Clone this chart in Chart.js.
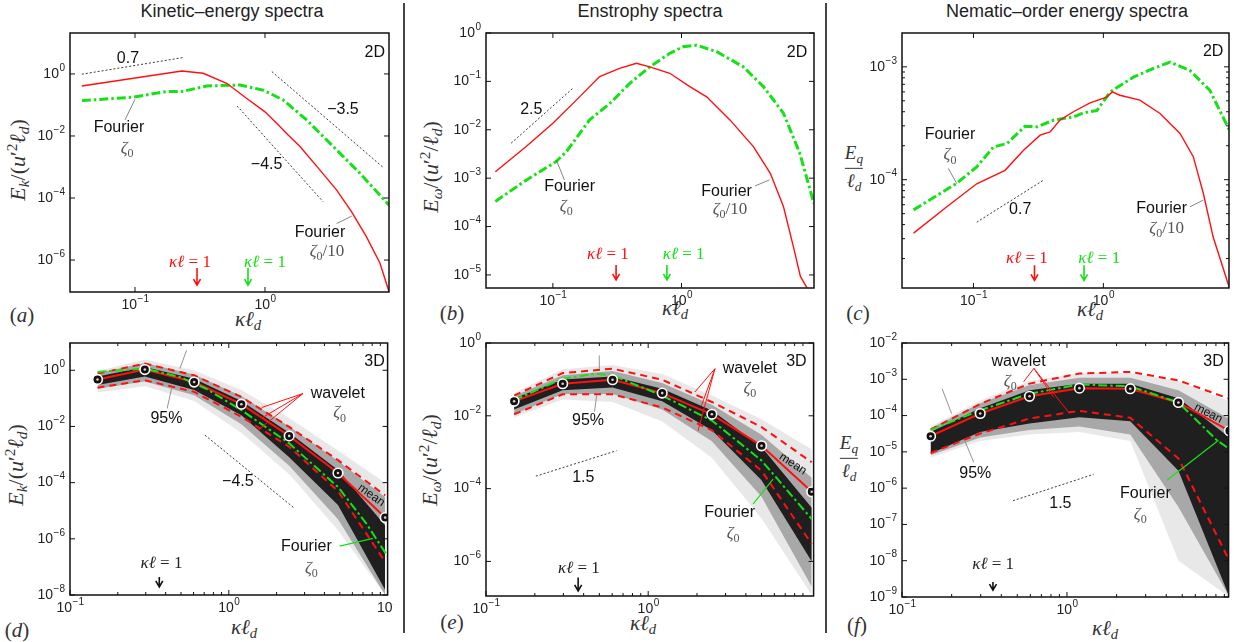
<!DOCTYPE html>
<html>
<head>
<meta charset="utf-8">
<script src="https://cdn.jsdelivr.net/npm/chart.js@4.4.1/dist/chart.umd.min.js"></script>
<style>
  body { margin: 0; background: #fff; width: 1234px; height: 642px; overflow: hidden; position: relative;
         font-family: "Liberation Sans", Arial, sans-serif; }
  canvas { position: absolute; }
  .title { position: absolute; top: 1px; font-size: 18px; color: #222; transform: translateX(-50%); white-space: nowrap; }
  .sep { position: absolute; top: 3px; width: 1.5px; height: 630px; background: #444; }
  .m { position: absolute; font-family: "Liberation Serif", "DejaVu Serif", serif; font-style: italic; color: #333;
       white-space: nowrap; transform: translate(-50%, -50%); line-height: 1; font-size: 21px; }
  .m .r { font-style: normal; }
  .m sub { font-size: 70%; vertical-align: -0.28em; }
  .m sup { font-size: 70%; vertical-align: 0.5em; }
  .ylab { font-size: 22px; }
  .rot { transform: translate(-50%, -50%) rotate(-90deg); }
  .frac { text-align: center; font-size: 19px; }
  .frac .bar { height: 1.3px; background: #333; margin: 3px 0 2px 0; }
</style>
</head>
<body>

<div class="title" style="left:232px">Kinetic–energy spectra</div>
<div class="title" style="left:650px">Enstrophy spectra</div>
<div class="title" style="left:1067px">Nematic–order energy spectra</div>
<div class="sep" style="left:403px"></div>
<div class="sep" style="left:825px"></div>

<!-- axis titles -->
<div class="m rot ylab" style="left:18px;top:160px">E<sub>k</sub><span class="r">/(</span>u<span class="r">′</span><sup class="r">2</sup>ℓ<sub>d</sub><span class="r">)</span></div>
<div class="m rot ylab" style="left:431px;top:167px">E<sub>ω</sub><span class="r">/(</span>u<span class="r">′</span><sup class="r">2</sup><span class="r">/</span>ℓ<sub>d</sub><span class="r">)</span></div>
<div class="m frac" style="left:854px;top:168px"><div>E<sub>q</sub></div><div class="bar"></div><div>ℓ<sub>d</sub></div></div>
<div class="m rot ylab" style="left:16px;top:465px">E<sub>k</sub><span class="r">/(</span>u<span class="r">′</span><sup class="r">2</sup>ℓ<sub>d</sub><span class="r">)</span></div>
<div class="m rot ylab" style="left:430px;top:460px">E<sub>ω</sub><span class="r">/(</span>u<span class="r">′</span><sup class="r">2</sup><span class="r">/</span>ℓ<sub>d</sub><span class="r">)</span></div>
<div class="m frac" style="left:849px;top:458px"><div>E<sub>q</sub></div><div class="bar"></div><div>ℓ<sub>d</sub></div></div>

<div class="m" style="left:248px;top:321px">κℓ<sub>d</sub></div>
<div class="m" style="left:675px;top:310px">κℓ<sub>d</sub></div>
<div class="m" style="left:1090px;top:311px">κℓ<sub>d</sub></div>
<div class="m" style="left:244px;top:629px">κℓ<sub>d</sub></div>
<div class="m" style="left:643px;top:625px">κℓ<sub>d</sub></div>
<div class="m" style="left:1105px;top:630px">κℓ<sub>d</sub></div>

<div class="m" style="left:22px;top:315px"><span class="r">(</span>a<span class="r">)</span></div>
<div class="m" style="left:452px;top:313px"><span class="r">(</span>b<span class="r">)</span></div>
<div class="m" style="left:858px;top:313px"><span class="r">(</span>c<span class="r">)</span></div>
<div class="m" style="left:17px;top:630px"><span class="r">(</span>d<span class="r">)</span></div>
<div class="m" style="left:452px;top:622px"><span class="r">(</span>e<span class="r">)</span></div>
<div class="m" style="left:857px;top:625px"><span class="r">(</span>f<span class="r">)</span></div>

<script>
// ---------- data ----------
// (a) kinetic energy, 2D
const aRedK   = [0.039, 0.229, 0.335, 0.507, 0.72, 1.0, 1.23, 1.5, 1.86, 2.65, 3.56, 4.64, 6.04, 7.67, 9.0];
const aRedE   = [0.41, 1.25, 1.05, 0.5, 0.165, 0.06, 0.0257, 0.011, 0.0046, 7.9e-4, 1.8e-4, 3.6e-5, 5.6e-6, 7.9e-7, 9.5e-8];
const aGreenK = [0.039, 0.097, 0.174, 0.229, 0.356, 0.64, 0.97, 1.38, 2.09, 3.35, 5.37, 9.0];
const aGreenE = [0.138, 0.178, 0.27, 0.27, 0.41, 0.44, 0.30, 0.145, 0.033, 0.0046, 6.3e-4, 5.9e-5];
const aSlopes = [[[0.039, 0.98], [0.233, 3.36]], [[1.13, 1.19], [8.04, 1.0e-3]], [[0.61, 0.093], [2.8, 7.6e-5]]];

// (b) enstrophy, 2D
const bRedK   = [0.0357, 0.062, 0.1, 0.152, 0.231, 0.33, 0.446, 0.567, 0.81, 1.16, 1.57, 2.38, 3.62, 4.9, 6.2, 7.4, 8.4, 9.45];
const bRedE   = [1.36e-3, 4.5e-3, 0.0136, 0.041, 0.126, 0.186, 0.236, 0.2, 0.147, 0.078, 0.048, 0.016, 4.5e-3, 1.26e-3, 2.6e-4, 3.9e-5, 9.3e-6, 5.4e-6];
const bGreenK = [0.0357, 0.062, 0.106, 0.127, 0.193, 0.277, 0.396, 0.567, 0.81, 1.03, 1.31, 1.88, 3.02, 4.33, 6.2, 8.3, 10.7];
const bGreenE = [3.3e-4, 9.1e-4, 2.2e-3, 3.5e-3, 0.016, 0.035, 0.091, 0.2, 0.38, 0.52, 0.56, 0.41, 0.2, 0.078, 0.022, 3.3e-3, 3.0e-4];
const bSlopes = [[[0.0474, 5.3e-3], [0.143, 0.072]]];

// (c) nematic-order energy, 2D
const cRedK   = [0.0346, 0.0624, 0.106, 0.175, 0.243, 0.326, 0.389, 0.464, 0.588, 0.79, 1.06, 1.17, 1.34, 1.91, 2.73, 3.89, 4.92, 5.89, 7.0, 9.33];
const cRedE   = [3.36e-5, 5.76e-5, 9.2e-5, 1.21e-4, 1.82e-4, 2.48e-4, 2.65e-4, 3.37e-4, 4.0e-4, 4.8e-4, 5.4e-4, 6.0e-4, 5.6e-4, 5.07e-4, 3.86e-4, 2.57e-4, 1.6e-4, 7.5e-5, 3.1e-5, 1.1e-5];
const cGreenK = [0.0346, 0.0745, 0.106, 0.1425, 0.181, 0.25, 0.31, 0.413, 0.588, 0.70, 0.89, 1.13, 1.7, 2.43, 3.26, 4.64, 6.6, 9.33];
const cGreenE = [5.4e-5, 9.3e-5, 1.3e-4, 1.95e-4, 2.09e-4, 2.98e-4, 2.94e-4, 3.37e-4, 3.6e-4, 3.9e-4, 4.1e-4, 6.0e-4, 8.1e-4, 9.7e-4, 1.1e-3, 9.3e-4, 6.2e-4, 2.75e-4];
const cSlopes = [[[0.106, 4.2e-5], [0.346, 9.9e-5]]];

// (d) kinetic energy, 3D  (wavelet statistics at octave scales)
const dK      = [0.149, 0.296, 0.605, 1.2, 2.4, 4.87, 9.66];
const dMean   = [0.47, 1.06, 0.38, 0.062, 4.6e-3, 2.2e-4, 5.7e-6];
const dUp95   = [0.76, 1.73, 0.66, 0.112, 9.6e-3, 6.3e-4, 3.5e-5];
const dLo95   = [0.24, 0.44, 0.17, 0.022, 1.9e-3, 5e-5, 1.5e-7];
const dOutUp  = [0.95, 2.4, 1.0, 0.2, 0.02, 1.4e-3, 1e-4];
const dOutLo  = [0.16, 0.27, 0.08, 0.006, 2e-4, 2e-6, 1e-8];
const dMidUp  = [0.8, 1.8, 0.7, 0.12, 0.01, 6e-4, 3e-5];
const dMidLo  = [0.22, 0.4, 0.13, 0.012, 4e-4, 5e-6, 1e-8];
const dCoreUp = [0.6, 1.3, 0.5, 0.08, 6e-3, 2.8e-4, 3e-6];
const dCoreLo = [0.3, 0.6, 0.2, 0.025, 8e-4, 1.6e-5, 1.5e-8];
const dGreenK = [0.149, 0.296, 0.49, 0.72, 1.2, 2.4, 4.87, 7.35, 10.2];
const dGreenE = [0.87, 1.15, 0.58, 0.22, 0.038, 2.5e-3, 7e-5, 3.5e-6, 2e-7];
const dSlopes = [[[0.708, 4.9e-3], [2.6, 1.2e-5]]];

// (e) enstrophy, 3D
const eK      = [0.149, 0.297, 0.603, 1.22, 2.47, 5.0, 10.2];
const eMean   = [0.025, 0.076, 0.098, 0.042, 0.011, 1.5e-3, 8.2e-5];
const eUp95   = [0.036, 0.149, 0.197, 0.098, 0.024, 4.9e-3, 5.3e-4];
const eLo95   = [0.011, 0.039, 0.039, 0.017, 4e-3, 3.1e-4, 3e-6];
const eOutUp  = [0.042, 0.19, 0.25, 0.14, 0.036, 8e-3, 1.2e-3];
const eOutLo  = [0.009, 0.028, 0.024, 0.007, 7e-4, 1.5e-5, 1.2e-7];
const eMidUp  = [0.035, 0.13, 0.17, 0.08, 0.02, 3e-3, 2e-4];
const eMidLo  = [0.011, 0.04, 0.04, 0.015, 2e-3, 6e-5, 2e-7];
const eCoreUp = [0.03, 0.1, 0.12, 0.055, 0.014, 1.4e-3, 3e-5];
const eCoreLo = [0.015, 0.05, 0.06, 0.025, 4e-3, 1.7e-4, 1e-6];
const eGreenK = [0.149, 0.297, 0.48, 0.603, 1.22, 2.47, 5.0, 6.17, 10.2];
const eGreenE = [0.027, 0.104, 0.144, 0.129, 0.036, 7.4e-3, 5.9e-4, 2e-4, 1.45e-5];
const eSlopes = [[[0.203, 2.2e-4], [0.638, 1.1e-3]]];

// (f) nematic-order energy, 3D
const fK      = [0.149, 0.298, 0.593, 1.19, 2.42, 4.74, 9.66];
const fMean   = [2.7e-5, 1.14e-4, 3.4e-4, 5.7e-4, 5.5e-4, 2.3e-4, 3.8e-5];
const fUp95   = [4.1e-5, 2.1e-4, 7.6e-4, 1.44e-3, 1.6e-3, 9.3e-4, 2.9e-4];
const fLo95   = [9.3e-6, 3.2e-5, 8.3e-5, 1.35e-4, 8.7e-5, 6.6e-6, 1.0e-8];
const fOutUp  = [5e-5, 2.6e-4, 9e-4, 1.5e-3, 1.5e-3, 9e-4, 2.5e-4];
const fOutLo  = [7e-6, 2e-5, 3e-5, 3.5e-5, 2e-5, 1e-8, 1e-9];
const fMidUp  = [4.5e-5, 2.2e-4, 7e-4, 1.1e-3, 1.1e-3, 5e-4, 8e-5];
const fMidLo  = [8e-6, 2.5e-5, 4e-5, 5e-5, 3e-5, 3e-7, 1e-9];
const fCoreUp = [3.5e-5, 1.6e-4, 5e-4, 7.5e-4, 7.5e-4, 3e-4, 2.5e-5];
const fCoreLo = [9e-6, 3.5e-5, 6e-5, 9e-5, 7e-5, 3e-6, 1e-9];
const fGreenK = [0.149, 0.298, 0.593, 1.19, 2.42, 4.74, 8.1, 9.66];
const fGreenE = [4e-5, 1.4e-4, 4e-4, 7.2e-4, 6.4e-4, 2.3e-4, 2.1e-5, 1.2e-5];
const fSlopes = [[[0.471, 4.5e-7], [1.45, 2.4e-6]]];

// tick exponents
const xTicks2D = [-1, 0];
const xTicksD = [-1, 0, 1];
const xTicksEF = [-1, 0];
const aYTicks = [-6, -4, -2, 0];
const bYTicks = [-5, -4, -3, -2, -1, 0];
const cYTicks = [-4, -3];
const dYTicks = [-8, -6, -4, -2, 0];
const eYTicks = [-6, -4, -2, 0];
const fYTicks = [-9, -8, -7, -6, -5, -4, -3, -2];

// ---------- helpers ----------
const RED = '#ff1010', GREEN = '#16e016';
const FS = '"Liberation Sans", Arial, sans-serif';
const FM = '"Liberation Serif", "DejaVu Serif", serif';

const pts = (k, E) => k.map((v, i) => ({ x: v, y: E[i] }));
const line = (k, E, color, width, dash, order) => ({
  data: pts(k, E), borderColor: color, borderWidth: width, borderDash: dash || [],
  fill: false, pointRadius: 0, order: order || 1
});
const band = (k, up, lo, color, order) => [
  { data: pts(k, up), borderWidth: 0, borderColor: 'rgba(0,0,0,0)', backgroundColor: color, fill: '+1', pointRadius: 0, order },
  { data: pts(k, lo), borderWidth: 0, borderColor: 'rgba(0,0,0,0)', fill: false, pointRadius: 0, order }
];
// three nested grey bands give the density shading of the wavelet spectra
const shading = (k, ou, ol, mu, ml, cu, cl) => [
  ...band(k, ou, ol, 'rgba(0,0,0,0.09)', 40),
  ...band(k, mu, ml, 'rgba(0,0,0,0.28)', 30),
  ...band(k, cu, cl, 'rgba(0,0,0,0.82)', 20)
];
const slopes = list => list.map(s => line(s.map(p => p[0]), s.map(p => p[1]), '#222', 0.9, [2, 2], 6));
const markers = (k, E) => [
  { data: pts(k, E), showLine: false, pointRadius: 4.8, pointBackgroundColor: '#111', pointBorderColor: '#fff', pointBorderWidth: 1.6, order: 1 },
  { data: pts(k, E), showLine: false, pointRadius: 1.3, pointBackgroundColor: '#f3c6c6', pointBorderWidth: 0, order: 0 }
];

function drawMath(ctx, cx, cy, parts, size, color) {
  const font = k => (k === 'r' || k === 'b' ? '' : 'italic ') + (k === 'b' || k === 'p' ? Math.round(size * 0.7) : size) + 'px ' + FM;
  let w = 0;
  parts.forEach(([s, k]) => { ctx.font = font(k); w += ctx.measureText(s).width; });
  let x0 = cx - w / 2;
  ctx.fillStyle = color; ctx.textAlign = 'left'; ctx.textBaseline = 'alphabetic';
  parts.forEach(([s, k]) => {
    ctx.font = font(k);
    const dy = k === 'b' ? size * 0.25 : 0;
    ctx.fillText(s, x0, cy + size * 0.33 + dy);
    x0 += ctx.measureText(s).width;
  });
}

function drawPow(ctx, px, py, e, align) {
  const ex = (e < 0 ? '\u2212' : '') + Math.abs(e);
  ctx.font = '14px ' + FS;
  const w1 = ctx.measureText('10').width;
  ctx.font = '10px ' + FS;
  const w2 = ctx.measureText(ex).width;
  const x0 = align === 'right' ? px - w1 - w2 - 0.5 : px - (w1 + w2) / 2;
  ctx.fillStyle = '#222'; ctx.textAlign = 'left'; ctx.textBaseline = 'middle';
  ctx.font = '14px ' + FS; ctx.fillText('10', x0, py);
  ctx.font = '10px ' + FS; ctx.fillText(ex, x0 + w1 + 0.5, py - 6);
}

function drawAnn(ctx, xs, ys, n) {
  const X = v => xs.getPixelForValue(v), Y = v => ys.getPixelForValue(v);
  if (n.t === 'seg') {
    ctx.strokeStyle = n.c; ctx.lineWidth = n.w || 0.8; ctx.beginPath();
    ctx.moveTo(X(n.p[0][0]), Y(n.p[0][1])); ctx.lineTo(X(n.p[1][0]), Y(n.p[1][1])); ctx.stroke();
  } else if (n.t === 'text') {
    ctx.save(); ctx.translate(X(n.x), Y(n.y));
    if (n.rot) ctx.rotate(n.rot * Math.PI / 180);
    ctx.font = (n.size || 16) + 'px ' + FS; ctx.fillStyle = n.c || '#111';
    ctx.textAlign = 'center'; ctx.textBaseline = 'middle'; ctx.fillText(n.s, 0, 0);
    ctx.restore();
  } else if (n.t === 'math') {
    drawMath(ctx, X(n.x), Y(n.y), n.parts, n.size || 17, n.c || '#555');
  } else if (n.t === 'arrow') {
    const px = X(n.x), y1 = Y(n.y1), y2 = Y(n.y2);
    ctx.strokeStyle = n.c; ctx.lineWidth = 1.6; ctx.beginPath();
    ctx.moveTo(px, y1); ctx.lineTo(px, y2);
    ctx.moveTo(px - 3.5, y2 - 6); ctx.lineTo(px, y2); ctx.lineTo(px + 3.5, y2 - 6);
    ctx.stroke();
  }
}

function framePlugin(f) {
  return {
    id: 'frame',
    afterDatasetsDraw(chart) {
      const { ctx, chartArea: a, scales: { x, y } } = chart;
      ctx.save();
      (f.ann || []).forEach(n => drawAnn(ctx, x, y, n));
      ctx.strokeStyle = '#111'; ctx.lineWidth = 1;
      const seg = (x1, y1, x2, y2) => { ctx.beginPath(); ctx.moveTo(x1, y1); ctx.lineTo(x2, y2); ctx.stroke(); };
      const inX = v => v >= x.min * 0.999 && v <= x.max * 1.001;
      const inY = v => v >= y.min * 0.999 && v <= y.max * 1.001;
      f.xTicks.forEach(e => {
        const px = x.getPixelForValue(10 ** e);
        seg(px, a.bottom, px, a.bottom - 5); seg(px, a.top, px, a.top + 5);
        drawPow(ctx, px, a.bottom + 13, e, 'center');
      });
      f.yTicks.forEach(e => {
        const py = y.getPixelForValue(10 ** e);
        seg(a.left, py, a.left + 5, py); seg(a.right, py, a.right - 5, py);
        drawPow(ctx, a.left - 5, py, e, 'right');
      });
      if (f.xMinor) {
        for (let e = -2; e <= 1; e++) for (let m = 2; m <= 9; m++) {
          const v = m * 10 ** e; if (!inX(v)) continue;
          const px = x.getPixelForValue(v);
          seg(px, a.bottom, px, a.bottom - 3); seg(px, a.top, px, a.top + 3);
        }
      }
      if (f.yMinor) {
        for (let e = -6; e <= -2; e++) for (let m = 2; m <= 9; m++) {
          const v = m * 10 ** e; if (!inY(v)) continue;
          const py = y.getPixelForValue(v);
          seg(a.left, py, a.left + 3, py); seg(a.right, py, a.right - 3, py);
        }
      }
      ctx.lineWidth = 1.5;
      ctx.strokeRect(a.left, a.top, a.right - a.left, a.bottom - a.top);
      ctx.restore();
    }
  };
}

function panel(box, xr, yr, datasets, f) {
  const m = { l: 62, t: 16, r: 6, b: 26 };
  const cv = document.createElement('canvas');
  cv.width = box[2] - box[0] + m.l + m.r;
  cv.height = box[3] - box[1] + m.t + m.b;
  cv.style.left = (box[0] - m.l) + 'px';
  cv.style.top = (box[1] - m.t) + 'px';
  document.body.appendChild(cv);
  return new Chart(cv.getContext('2d'), {
    type: 'line',
    data: { datasets },
    options: {
      responsive: false, animation: false, devicePixelRatio: 1, events: [],
      layout: { padding: { left: m.l, top: m.t, right: m.r, bottom: m.b } },
      scales: {
        x: { type: 'logarithmic', display: false, min: xr[0], max: xr[1] },
        y: { type: 'logarithmic', display: false, min: yr[0], max: yr[1] }
      },
      elements: { line: { tension: 0 }, point: { radius: 0 } },
      plugins: { legend: { display: false }, tooltip: { enabled: false } }
    },
    plugins: [framePlugin(f)]
  });
}

const zeta = [['ζ', 'i'], ['0', 'b']];
const zeta10 = [['ζ', 'i'], ['0', 'b'], ['/10', 'r']];
const kl1 = [['κℓ', 'i'], [' = 1', 'r']];
const GDASH = [9, 3, 2.5, 3];

// ---------- (a) ----------
panel([70, 33, 389, 292], [10 ** -1.5, 10 ** 0.954], [10 ** -7.03, 10 ** 1.32], [
  line(aGreenK, aGreenE, GREEN, 3, GDASH, 3),
  line(aRedK, aRedE, RED, 1.4, [], 2),
  ...slopes(aSlopes)
], { xTicks: xTicks2D, yTicks: aYTicks, ann: [
  { t: 'text', s: '2D', x: 7.0, y: 4.76 },
  { t: 'text', s: '0.7', x: 0.0883, y: 3.05 },
  { t: 'text', s: '\u22123.5', x: 3.98, y: 0.069 },
  { t: 'text', s: '\u22124.5', x: 1.03, y: 1.16e-3 },
  { t: 'text', s: 'Fourier', x: 0.0753, y: 0.018 },
  { t: 'math', parts: zeta, x: 0.087, y: 4.4e-3 },
  { t: 'seg', c: '#666', p: [[0.0838, 0.033], [0.1, 0.153]] },
  { t: 'text', s: 'Fourier', x: 2.65, y: 7.4e-6 },
  { t: 'math', parts: zeta10, x: 3.0, y: 2.1e-6 },
  { t: 'seg', c: '#666', p: [[3.56, 1.5e-5], [4.64, 2.6e-5]] },
  { t: 'math', parts: kl1, x: 0.265, y: 9.3e-7, c: RED },
  { t: 'arrow', x: 0.3, y1: 5.5e-7, y2: 1.55e-7, c: RED },
  { t: 'math', parts: kl1, x: 1.0, y: 9.3e-7, c: GREEN },
  { t: 'arrow', x: 0.74, y1: 5.5e-7, y2: 1.55e-7, c: GREEN }
]});

// ---------- (b) ----------
panel([486, 33, 814, 288], [10 ** -1.52, 10 ** 1.03], [10 ** -5.27, 1], [
  line(bGreenK, bGreenE, GREEN, 3, GDASH, 3),
  line(bRedK, bRedE, RED, 1.4, [], 2),
  ...slopes(bSlopes)
], { xTicks: xTicks2D, yTicks: bYTicks, ann: [
  { t: 'text', s: '2D', x: 7.9, y: 0.386 },
  { t: 'text', s: '2.5', x: 0.068, y: 0.0257 },
  { t: 'text', s: 'Fourier', x: 0.135, y: 6.7e-4 },
  { t: 'math', parts: zeta, x: 0.127, y: 2.8e-4 },
  { t: 'seg', c: '#666', p: [[0.123, 9.2e-4], [0.106, 2.4e-3]] },
  { t: 'text', s: 'Fourier', x: 2.24, y: 5.3e-4 },
  { t: 'math', parts: zeta10, x: 2.38, y: 2.4e-4 },
  { t: 'seg', c: '#666', p: [[3.73, 6.9e-4], [4.82, 9.2e-4]] },
  { t: 'math', parts: kl1, x: 0.268, y: 2.8e-5, c: RED },
  { t: 'arrow', x: 0.31, y1: 1.6e-5, y2: 7.9e-6, c: RED },
  { t: 'math', parts: kl1, x: 1.04, y: 2.8e-5, c: GREEN },
  { t: 'arrow', x: 0.77, y1: 1.6e-5, y2: 7.9e-6, c: GREEN }
]});

// ---------- (c) ----------
panel([902, 33, 1229, 288], [10 ** -1.55, 10 ** 0.967], [10 ** -4.96, 10 ** -2.70], [
  line(cGreenK, cGreenE, GREEN, 3, GDASH, 3),
  line(cRedK, cRedE, RED, 1.4, [], 2),
  ...slopes(cSlopes)
], { xTicks: xTicks2D, yTicks: cYTicks, yMinor: true, ann: [
  { t: 'text', s: '2D', x: 7.0, y: 1.36e-3 },
  { t: 'text', s: '0.7', x: 0.229, y: 5.4e-5 },
  { t: 'text', s: 'Fourier', x: 0.066, y: 2.5e-4 },
  { t: 'math', parts: zeta, x: 0.066, y: 1.7e-4 },
  { t: 'seg', c: '#666', p: [[0.064, 1.26e-4], [0.0745, 9.2e-5]] },
  { t: 'text', s: 'Fourier', x: 2.81, y: 5.5e-5 },
  { t: 'math', parts: zeta10, x: 3.07, y: 3.8e-5 },
  { t: 'seg', c: '#666', p: [[4.64, 5.75e-5], [5.88, 6.6e-5]] },
  { t: 'math', parts: kl1, x: 0.258, y: 2.06e-5, c: RED },
  { t: 'arrow', x: 0.295, y1: 1.74e-5, y2: 1.28e-5, c: RED },
  { t: 'math', parts: kl1, x: 0.93, y: 2.06e-5, c: GREEN },
  { t: 'arrow', x: 0.71, y1: 1.74e-5, y2: 1.28e-5, c: GREEN }
]});

// ---------- (d) ----------
panel([70, 343, 388, 595], [0.1, 10], [1e-8, 10 ** 0.97], [
  ...shading(dK, dOutUp, dOutLo, dMidUp, dMidLo, dCoreUp, dCoreLo),
  line(dK, dUp95, RED, 2, [7, 5], 5),
  line(dK, dLo95, RED, 2, [7, 5], 5),
  line(dK, dMean, RED, 2, [], 4),
  line(dGreenK, dGreenE, GREEN, 2, GDASH, 3),
  ...slopes(dSlopes),
  ...markers(dK, dMean)
], { xTicks: xTicksD, yTicks: dYTicks, xMinor: true, ann: [
  { t: 'text', s: '3D', x: 8.28, y: 1.97 },
  { t: 'text', s: '\u22124.5', x: 1.14, y: 1.07e-4 },
  { t: 'text', s: 'wavelet', x: 4.86, y: 0.148 },
  { t: 'math', parts: zeta, x: 4.99, y: 0.033 },
  { t: 'seg', c: RED, w: 1, p: [[2.93, 0.148], [1.61, 0.047]] },
  { t: 'seg', c: RED, w: 1, p: [[2.93, 0.148], [1.64, 0.021]] },
  { t: 'seg', c: RED, w: 1, p: [[2.93, 0.148], [1.53, 7.3e-3]] },
  { t: 'text', s: '95%', x: 0.405, y: 0.019 },
  { t: 'seg', c: '#777', p: [[0.542, 5.1], [0.492, 1.15]] },
  { t: 'seg', c: '#777', p: [[0.436, 0.224], [0.409, 0.0435]] },
  { t: 'text', s: 'mean', x: 7.9, y: 3.55e-5, rot: 35, size: 12 },
  { t: 'text', s: 'Fourier', x: 3.08, y: 5.1e-7 },
  { t: 'math', parts: zeta, x: 3.31, y: 9.5e-8 },
  { t: 'seg', c: GREEN, w: 1.2, p: [[4.99, 5.5e-7], [8.09, 1.03e-6]] },
  { t: 'math', parts: kl1, x: 0.377, y: 1.5e-7, c: '#222' },
  { t: 'arrow', x: 0.365, y1: 4.4e-8, y2: 1.95e-8, c: '#111' }
]});

// ---------- (e) ----------
panel([486, 343, 814, 596], [0.1, 10 ** 1.02], [10 ** -6.95, 1], [
  ...shading(eK, eOutUp, eOutLo, eMidUp, eMidLo, eCoreUp, eCoreLo),
  line(eK, eUp95, RED, 2, [7, 5], 5),
  line(eK, eLo95, RED, 2, [7, 5], 5),
  line(eK, eMean, RED, 2, [], 4),
  line(eGreenK, eGreenE, GREEN, 2, GDASH, 3),
  ...slopes(eSlopes),
  ...markers(eK, eMean)
], { xTicks: xTicksEF, yTicks: eYTicks, xMinor: true, ann: [
  { t: 'text', s: '3D', x: 8.2, y: 0.3 },
  { t: 'text', s: '1.5', x: 0.398, y: 2.0e-4 },
  { t: 'text', s: 'wavelet', x: 4.24, y: 0.197 },
  { t: 'math', parts: zeta, x: 4.24, y: 0.061 },
  { t: 'seg', c: RED, w: 1, p: [[2.58, 0.197], [1.94, 0.045]] },
  { t: 'seg', c: RED, w: 1, p: [[2.58, 0.197], [2.13, 0.019]] },
  { t: 'seg', c: RED, w: 1, p: [[2.58, 0.197], [2.03, 3.9e-3]] },
  { t: 'text', s: '95%', x: 0.426, y: 7.4e-3 },
  { t: 'seg', c: '#777', p: [[0.499, 0.457], [0.50, 0.197]] },
  { t: 'seg', c: '#777', p: [[0.481, 0.036], [0.467, 0.013]] },
  { t: 'text', s: 'mean', x: 7.8, y: 4.8e-4, rot: 33, size: 12 },
  { t: 'text', s: 'Fourier', x: 3.18, y: 2.2e-5 },
  { t: 'math', parts: zeta, x: 3.34, y: 6.3e-6 },
  { t: 'seg', c: GREEN, w: 1.2, p: [[4.44, 3.8e-5], [5.89, 1.83e-4]] },
  { t: 'math', parts: kl1, x: 0.374, y: 6.8e-7, c: '#222' },
  { t: 'arrow', x: 0.37, y1: 3.6e-7, y2: 1.55e-7, c: '#111' }
]});

// ---------- (f) ----------
panel([902, 343, 1229, 597], [0.1, 10 ** 0.98], [1e-9, 1e-2], [
  ...shading(fK, fOutUp, fOutLo, fMidUp, fMidLo, fCoreUp, fCoreLo),
  line(fK, fUp95, RED, 2, [7, 5], 5),
  line(fK, fLo95, RED, 2, [7, 5], 5),
  line(fK, fMean, RED, 2, [], 4),
  line(fGreenK, fGreenE, GREEN, 2, GDASH, 3),
  ...slopes(fSlopes),
  ...markers(fK, fMean)
], { xTicks: xTicksEF, yTicks: fYTicks, xMinor: true, ann: [
  { t: 'text', s: '3D', x: 7.73, y: 3.0e-3 },
  { t: 'text', s: '1.5', x: 0.912, y: 3.8e-7 },
  { t: 'text', s: 'wavelet', x: 0.509, y: 3.0e-3 },
  { t: 'math', parts: zeta, x: 0.453, y: 9.3e-4 },
  { t: 'seg', c: RED, w: 1, p: [[0.63, 2.0e-3], [0.546, 8.5e-4]] },
  { t: 'seg', c: RED, w: 1, p: [[0.63, 2.0e-3], [0.83, 3.2e-4]] },
  { t: 'seg', c: RED, w: 1, p: [[0.63, 2.0e-3], [1.02, 1.26e-4]] },
  { t: 'text', s: '95%', x: 0.278, y: 2.5e-6 },
  { t: 'seg', c: '#777', p: [[0.175, 5.5e-4], [0.2, 1.13e-4]] },
  { t: 'seg', c: '#777', p: [[0.242, 1.87e-5], [0.272, 5.2e-6]] },
  { t: 'text', s: 'mean', x: 7.2, y: 1.15e-4, rot: 27, size: 12 },
  { t: 'text', s: 'Fourier', x: 2.99, y: 7.1e-7 },
  { t: 'math', parts: zeta, x: 2.78, y: 2.0e-7 },
  { t: 'seg', c: GREEN, w: 1.2, p: [[4.04, 1.66e-6], [8.3, 2.1e-5]] },
  { t: 'math', parts: kl1, x: 0.357, y: 8.3e-9, c: '#222' },
  { t: 'arrow', x: 0.356, y1: 2.6e-9, y2: 1.55e-9, c: '#111' }
]});
</script>
</body>
</html>
